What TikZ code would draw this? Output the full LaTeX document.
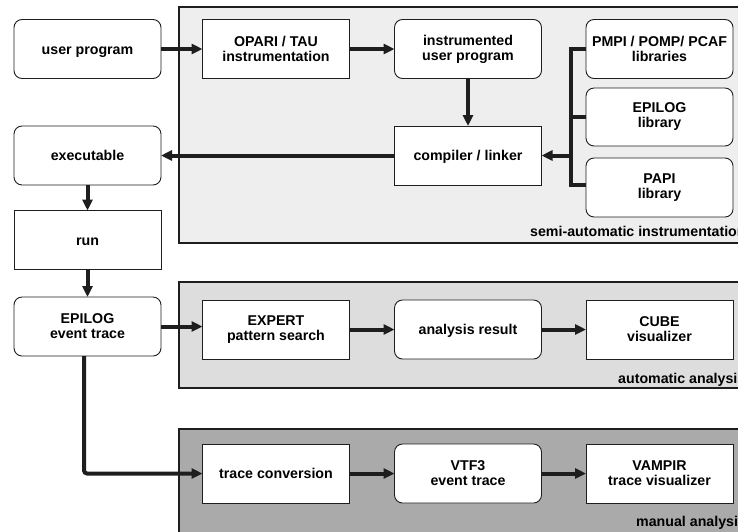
\documentclass[tikz,border=0pt]{standalone}
\usepackage{fontspec}
\setmainfont{Liberation Sans}
\usetikzlibrary{arrows.meta}
\definecolor{semibg}{RGB}{238,238,238}
\definecolor{autobg}{RGB}{221,221,221}
\definecolor{manbg}{RGB}{170,170,170}
\definecolor{edge}{RGB}{30,30,30}
\begin{document}
\begin{tikzpicture}[x=1pt,y=-1pt,
  font=\fontsize{14.2}{15}\selectfont\bfseries,
  box/.style={draw=edge,line width=0.9pt,fill=white,minimum width=147pt,minimum height=59pt,inner sep=0pt,outer sep=0pt,align=center},
  rbox/.style={box,rounded corners=8pt},
  oneline/.style={text height=10.6pt,text depth=0pt},
  panel/.style={draw=edge,line width=1.8pt},
  flow/.style={line width=4pt,edge,-{Triangle[length=11pt,width=10pt]}},
  wire/.style={line width=4pt,edge},
  plabel/.style={anchor=base west,inner sep=0pt}]
\useasboundingbox (0,0) rectangle (738,531);
\clip (0,0) rectangle (738,531);
% panels
\draw[panel,fill=semibg] (179,7) rectangle (800,243);
\draw[panel,fill=autobg] (179,282) rectangle (800,388);
\draw[panel,fill=manbg] (179,429) rectangle (800,600);
\node[plabel] (lsemi) at (530,236.5) {semi-automatic instrumentation};
\node[plabel] (lauto) at (618,383) {automatic analysis};
\node[plabel] (lman) at (636,526) {manual analysis};
% left column
\node[rbox,oneline] (up) at (87.5,49) {user program};
\node[rbox,oneline] (exe) at (87.5,155.5) {executable};
\node[box,oneline] (run) at (87.5,240) {run};
\node[rbox] (ept) at (87.5,326.5) {EPILOG\\event trace};
% semi-automatic
\node[box] (opari) at (276,49) {OPARI / TAU\\instrumentation};
\node[rbox] (iup) at (468,49) {instrumented\\user program};
\node[box,oneline] (comp) at (468,155.5) {compiler / linker};
\node[rbox] (pmpi) at (659.5,49) {PMPI / POMP/ PCAF\\libraries};
\node[rbox,minimum height=58pt] (epilib) at (659.5,117) {EPILOG\\library};
\node[rbox] (papi) at (659.5,187.5) {PAPI\\library};
% automatic
\node[box] (expert) at (276,329.5) {EXPERT\\pattern search};
\node[rbox,oneline] (ar) at (468,329.5) {analysis result};
\node[box] (cube) at (659.5,329.5) {CUBE\\visualizer};
% manual
\node[box,oneline] (tc) at (276,473.5) {trace conversion};
\node[rbox] (vtf) at (468,473.5) {VTF3\\event trace};
\node[box] (vampir) at (659.5,473.5) {VAMPIR\\trace visualizer};
% bus
\coordinate (btop) at (571,49);
\coordinate (bmid) at (571,117);
\coordinate (bbot) at (571,185);
\coordinate (bout) at (571,155.5);
\draw[wire] (pmpi.west) -- (btop) -- (bbot) -- (bbot -| papi.west);
\draw[wire] (epilib.west) -- (bmid);
\draw[flow] (bout) -- (comp.east);
% connectors
\draw[flow] (up.east) -- (opari.west);
\draw[flow] (opari.east) -- (iup.west);
\draw[flow] (iup.south) -- (comp.north);
\draw[flow] (comp.west) -- (exe.east);
\draw[flow] (exe.south) -- (run.north);
\draw[flow] (run.south) -- (ept.north);
\draw[flow] (ept.east) -- (ept.east -| expert.west);
\draw[flow] (expert.east) -- (ar.west);
\draw[flow] (ar.east) -- (cube.west);
\draw[flow] (tc.east) -- (vtf.west);
\draw[flow] (vtf.east) -- (vampir.west);
\draw[flow,rounded corners=3pt] (ept.south -| 84,0) |- (tc.west);
\end{tikzpicture}
\end{document}
